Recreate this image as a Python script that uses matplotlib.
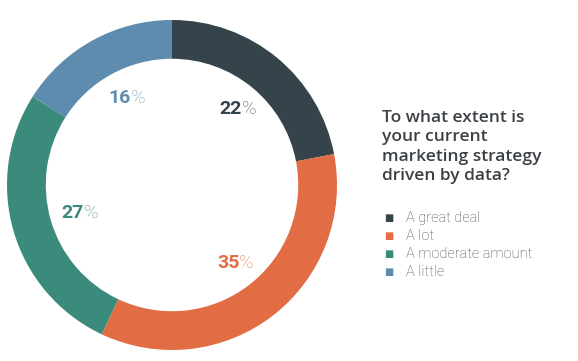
import numpy as np
import matplotlib.pyplot as plt

labels = ["A great deal", "A lot", "A moderate amount", "A little"]
values = [22, 35, 27, 16]
colors = ["#35444b", "#e26c43", "#3a8b7b", "#5d8cae"]
title = "To what extent is\nyour current\nmarketing strategy\ndriven by data?"

fig = plt.figure(figsize=(5.78, 3.61), dpi=100)
fig.patch.set_facecolor("white")

# donut axes: center ~ (172, 185) px, outer radius ~165 px
ax = fig.add_axes([7 / 578, 11 / 361, 330 / 578, 330 / 361])
ax.pie(values, colors=colors, startangle=90, counterclock=False, radius=1,
       wedgeprops=dict(width=0.235, edgecolor="none"))
ax.set_xlim(-1, 1)
ax.set_ylim(-1, 1)
ax.set_aspect("auto")
ax.axis("off")

# percentage labels inside the ring
start = 90
for v, c in zip(values, colors):
    mid = np.deg2rad(start - v * 3.6 / 2)
    start -= v * 3.6
    r = 0.6
    x, y = r * np.cos(mid), r * np.sin(mid)
    ax.text(x + 0.04, y, str(v), ha="right", va="center", fontsize=14,
            fontweight="bold", color=c, family="Roboto")
    ax.text(x + 0.04, y, "%", ha="left", va="center", fontsize=14,
            fontweight="light", color=c, family="Roboto", alpha=0.85)

# title and legend on the right
fig.text(382 / 578, 1 - 110 / 361, title, ha="left", va="top", fontsize=12.5,
         fontweight="semibold", color="#3b4045", family="Open Sans", linespacing=1.28)

for i, (lab, c) in enumerate(zip(labels, colors)):
    y = 1 - (218 + 18 * i) / 361
    fig.text(384 / 578, y, "\u25A0", ha="left", va="center", fontsize=7,
             color=c, family="DejaVu Sans")
    fig.text(406 / 578, y, lab, ha="left", va="center", fontsize=10.5,
             fontweight="light", color="#4a4a4a", family="Roboto")

fig.savefig("out.png", dpi=100, facecolor="white")
